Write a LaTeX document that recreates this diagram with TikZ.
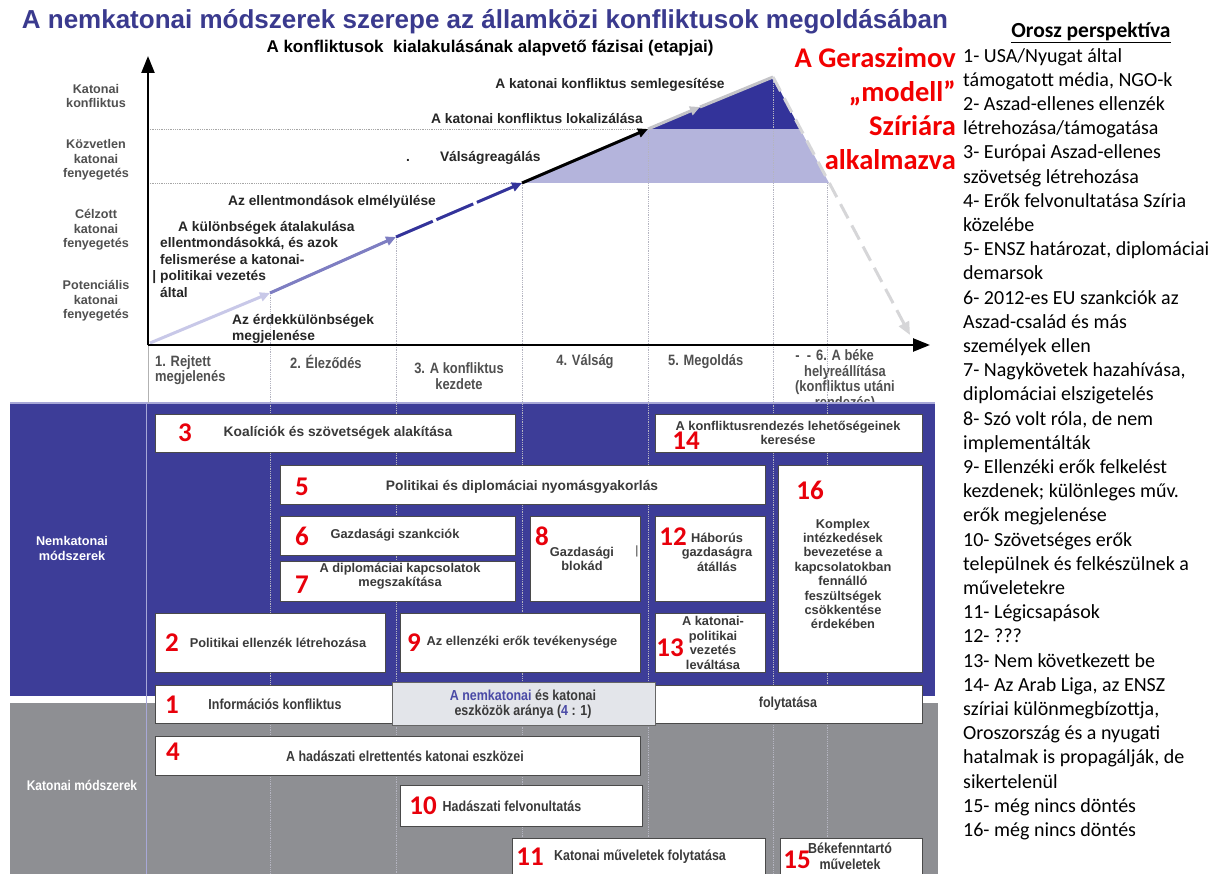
\documentclass[tikz,border=0pt]{standalone}
\usepackage{fontspec}
\setmainfont{Liberation Sans}
\newfontfamily\narrowfont[FakeStretch=0.86]{Liberation Sans}
\newfontfamily\calfont{Carlito}
\usetikzlibrary{arrows.meta}
\definecolor{title-blue}{HTML}{3A3A8E}
\definecolor{band-blue}{HTML}{3D3D98}
\definecolor{band-top}{HTML}{A8A8D8}
\definecolor{band-gray}{HTML}{8E8F93}
\definecolor{lav-light}{HTML}{C8C8E8}
\definecolor{lav-mid}{HTML}{7E7EC2}
\definecolor{lav-fill}{HTML}{B4B4DC}
\definecolor{deep-blue}{HTML}{33339A}
\definecolor{peak-gray}{HTML}{C4C4C8}
\definecolor{fall-gray}{HTML}{D6D6D8}
\definecolor{grid-gray}{HTML}{B4B4C0}
\definecolor{box-edge}{HTML}{4A4A4A}
\definecolor{box-text}{HTML}{3A3A3A}
\definecolor{label-gray}{HTML}{505050}
\definecolor{ratio-fill}{HTML}{E3E5EA}
\definecolor{ratio-blue}{HTML}{4A4AA6}
\definecolor{num-red}{HTML}{E8000B}
\definecolor{ger-red}{HTML}{F20000}

\begin{document}
\begin{tikzpicture}[x=1pt, y=-1pt,
      blok/.style={draw=box-edge, fill=white, line width=0.9pt, inner sep=0pt},
      btxt/.style={font=\bfseries\fontsize{12.8}{14.4}\selectfont, text=box-text, align=center, inner sep=0pt},
      gtxt/.style={font=\narrowfont\bfseries\fontsize{14.5}{15.5}\selectfont, text=box-text, align=center, inner sep=0pt},
      num/.style={font=\calfont\bfseries\fontsize{27}{27}\selectfont, text=num-red, inner sep=0pt},
      ylab/.style={font=\bfseries\fontsize{12.6}{14.7}\selectfont, text=label-gray, align=center, inner sep=0pt},
      ann/.style={font=\bfseries\fontsize{13.8}{16.5}\selectfont, text=black!85, inner sep=0pt},
      phase/.style={font=\narrowfont\bfseries\fontsize{15}{15.5}\selectfont, text=label-gray, align=center, inner sep=0pt},
      vline/.style={densely dotted, line width=0.8pt, grid-gray},
      growth/.style={line width=3pt, -{Triangle[length=10pt,width=9pt]}}]
    \useasboundingbox (0,0) rectangle (1220,874);
    \fill[white] (0,0) rectangle (1220,874);

    % title
    \node[font=\bfseries\fontsize{26}{26}\selectfont, text=title-blue, inner sep=0pt] (cim) at (485,22)
          {A nemkatonai módszerek szerepe az államközi konfliktusok megoldásában};
    \node[font=\bfseries\fontsize{17}{17}\selectfont, inner sep=0pt] (alcim) at (490,48)
          {A konfliktusok\ \ kialakulásának alapvető fázisai (etapjai)};

    % chart points
    \coordinate (o) at (148,345);
    \coordinate (ytop) at (148,56);
    \coordinate (xend) at (930,345);
    \coordinate (bot) at (0,874);
    \coordinate (p0) at (150,343);
    \coordinate (p1) at (270,293);
    \coordinate (p2) at (396,237);
    \coordinate (p3) at (522,183);
    \coordinate (p4) at (648,129);
    \coordinate (pm) at (700,107);
    \coordinate (p5) at (773,77);
    \coordinate (pe) at (910,335);
    \coordinate (d1) at (800,129);
    \coordinate (d2) at (829,183);
    \coordinate (d3) at (827,183);
    \coordinate (sep) at (146,403);

    \fill[lav-fill] (p3) -- (p4) -- (d1) -- (d2) -- cycle;
    \fill[deep-blue] (p4) -- (p5) -- (d1) -- cycle;
    \draw[densely dotted, gray!70, line width=0.8pt] (o |- p4) -- (p4);
    \draw[densely dotted, gray!70, line width=0.8pt] (o |- p3) -- (p3);

    % phase labels
    \node[phase, align=left, anchor=west] (f1) at (155,370) {1. Rejtett\\megjelenés};
    \node[phase, anchor=west] (f2) at (290,362) {2. Éleződés};
    \node[phase] (f3) at (459,376) {3. A konfliktus\\kezdete};
    \node[phase] (f4) at (585,362) {4. Válság};
    \node[phase, anchor=west] (f5) at (668,362) {5. Megoldás};
    \node[phase] (f6) at (845,380) {\llap{-\hspace{7pt}-\hspace{5pt}}6. A béke\\helyreállítása\\(konfliktus utáni\\rendezés)};

    % bands
    \fill[band-blue] (10,403) rectangle (935,696);
    \fill[band-gray] (10,703) rectangle (938,874);
    \draw[band-top, line width=1.2pt] (10,403) -- (935,403);
    \draw[band-top, line width=0.8pt] (sep) -- (sep |- bot);
    \draw[gray!60, line width=0.8pt] (o) -- (o |- sep);

    % phase borders
    \draw[vline] (p1) -- (p1 |- bot);
    \draw[vline] (p2) -- (p2 |- bot);
    \draw[vline] (p3) -- (p3 |- bot);
    \draw[vline] (p4) -- (p4 |- bot);
    \draw[vline] (p5) -- (p5 |- bot);
    \draw[vline] (d3) -- (d3 |- bot);

    % growth line
    \draw[growth, lav-light] (p0) -- (p1);
    \draw[growth, lav-mid] (p1) -- (p2);
    \draw[growth, deep-blue, dash pattern=on 40pt off 4pt] (p2) -- (p3);
    \draw[growth, black] (p3) -- (p4);
    \draw[growth, peak-gray] (p4) -- (pm);
    \draw[line width=3pt, peak-gray] (pm) -- (p5);
    \draw[line width=3pt, fall-gray, dash pattern=on 16pt off 8pt, -{Triangle[length=13pt,width=11pt]}] (p5) -- (pe);

    % axes
    \draw[line width=2.4pt, -{Triangle[length=17pt,width=13pt]}] (o) -- (ytop);
    \draw[line width=2.4pt, -{Triangle[length=17pt,width=13pt]}] (o) -- (xend);

    % levels
    \node[ylab] (yk1) at (96,96) {Katonai\\konfliktus};
    \node[ylab] (yk2) at (96,160) {Közvetlen\\katonai\\fenyegetés};
    \node[ylab] (yk3) at (96,230) {Célzott\\katonai\\fenyegetés};
    \node[ylab] (yk4) at (96,301) {Potenciális\\katonai\\fenyegetés};

    % stages on the line
    \node[ann] (a1) at (610,85) {A katonai konfliktus semlegesítése};
    \node[ann] (a2) at (537,119) {A katonai konfliktus lokalizálása};
    \node[ann, anchor=west] (a3) at (406,158) {.\hspace{30pt}Válságreagálás};
    \node[ann] (a4) at (332,202) {Az ellentmondások elmélyülése};
    \node[ann, align=left, anchor=north west] (a5) at (160,221)
          {\hspace{18pt}A különbségek átalakulása\\ellentmondásokká, és azok\\felismerése a katonai-\\\llap{|\hspace{4pt}}politikai vezetés\\által};
    \node[ann, align=left, anchor=west] (a6) at (232,329) {Az érdekkülönbségek\\megjelenése};

    % Geraszimov
    \node[font=\calfont\bfseries\fontsize{28.5}{34}\selectfont, text=ger-red, align=right,
          anchor=north east, inner sep=0pt] (gera) at (956,47) {A Geraszimov\\„modell”\\Szíriára\\alkalmazva};

    % band labels
    \node[font=\bfseries\fontsize{12.7}{15}\selectfont, text=white, align=center, inner sep=0pt] (lnem) at (72,548) {Nemkatonai\\módszerek};
    \node[font=\narrowfont\bfseries\fontsize{14}{14}\selectfont, text=white, inner sep=0pt] (lkat) at (82,785) {Katonai módszerek};

    % non-military boxes
    \node[blok, minimum width=360pt, minimum height=38pt] (b3) at (335,433) {};
    \node[blok, minimum width=267pt, minimum height=38pt] (b14) at (788.5,433) {};
    \node[blok, minimum width=485pt, minimum height=39pt] (b5) at (522.5,484.5) {};
    \node[blok, minimum width=144pt, minimum height=207pt] (b16) at (850,568.5) {};
    \node[blok, minimum width=235pt, minimum height=39pt] (b6) at (397.5,535.5) {};
    \node[blok, minimum width=235pt, minimum height=40pt] (b7) at (397.5,581) {};
    \node[blok, minimum width=110pt, minimum height=85pt] (b8) at (585,558.5) {};
    \node[blok, minimum width=110pt, minimum height=85pt] (b12) at (710,558.5) {};
    \node[blok, minimum width=230pt, minimum height=59pt] (b2) at (270,642.5) {};
    \node[blok, minimum width=240pt, minimum height=59pt] (b9) at (520,642.5) {};
    \node[blok, minimum width=110pt, minimum height=59pt] (b13) at (710,642.5) {};

    \node[btxt, font=\bfseries\fontsize{13.8}{15}\selectfont] (t3) at (338,433) {Koalíciók és szövetségek alakítása};
    \node[btxt] (t14) at (788,433) {A konfliktusrendezés lehetőségeinek\\keresése};
    \node[btxt, font=\bfseries\fontsize{13.8}{15}\selectfont] (t5) at (522,487) {Politikai és diplomáciai nyomásgyakorlás};
    \node[btxt] (t16) at (843,574) {Komplex\\intézkedések\\bevezetése a\\kapcsolatokban\\fennálló\\feszültségek\\csökkentése\\érdekében};
    \node[btxt] (t6) at (395,535) {Gazdasági szankciók};
    \node[btxt] (t7) at (400,576) {A diplomáciai kapcsolatok\\megszakítása};
    \node[btxt] (t8) at (582,559) {Gazdasági\\blokád};
    \node[btxt, font=\fontsize{12}{12}\selectfont] (t8b) at (637,551) {|};
    \node[btxt] (t12) at (717,552) {Háborús\\gazdaságra\\átállás};
    \node[btxt] (t2) at (278,643) {Politikai ellenzék létrehozása};
    \node[btxt] (t9) at (522,642) {Az ellenzéki erők tevékenysége};
    \node[btxt] (t13) at (713,643) {A katonai-\\politikai\\vezetés\\leváltása};

    % military boxes
    \node[blok, minimum width=237pt, minimum height=38pt] (b1) at (273.5,704) {};
    \node[blok, minimum width=267pt, minimum height=38pt] (bfoly) at (788.5,704) {};
    \node[blok, fill=ratio-fill, draw=gray!80!black, minimum width=263pt, minimum height=43pt] (arany) at (523.5,703.5) {};
    \node[blok, minimum width=485pt, minimum height=39pt] (b4) at (397.5,755.5) {};
    \node[blok, minimum width=242pt, minimum height=41pt] (b10) at (521,805.5) {};
    \node[blok, minimum width=253pt, minimum height=42pt] (b11) at (638.5,859) {};
    \node[blok, minimum width=142pt, minimum height=42pt] (b15) at (851,859) {};

    \node[gtxt] (t1) at (275,704) {Információs konfliktus};
    \node[gtxt] (tfoly) at (788,704) {folytatása};
    \node[gtxt] (tarany) at (523,704) {\textcolor{ratio-blue}{A nemkatonai} és katonai\\eszközök aránya (\textcolor{ratio-blue}{4} : 1)};
    \node[gtxt] (t4) at (405,756) {A hadászati elrettentés katonai eszközei};
    \node[gtxt] (t10) at (512,806) {Hadászati felvonultatás};
    \node[gtxt] (t11) at (640,857) {Katonai műveletek folytatása};
    \node[gtxt] (t15) at (850,856) {Békefenntartó\\műveletek};

    % numbers
    \node[num] (n3) at (185,433) {3};
    \node[num] (n14) at (686,441) {14};
    \node[num] (n5) at (302,487) {5};
    \node[num] (n16) at (810,490) {16};
    \node[num] (n6) at (302,536) {6};
    \node[num] (n7) at (302,585) {7};
    \node[num] (n8) at (542,536) {8};
    \node[num] (n12) at (673,537) {12};
    \node[num] (n2) at (172,643) {2};
    \node[num] (n9) at (414,643) {9};
    \node[num] (n13) at (670,648) {13};
    \node[num] (n1) at (172,705) {1};
    \node[num] (n4) at (173,752) {4};
    \node[num] (n10) at (423,806) {10};
    \node[num] (n11) at (530,857) {11};
    \node[num] (n15) at (797,860) {15};

    % Russian view
    \node[font=\calfont\bfseries\fontsize{21.5}{21.5}\selectfont, inner sep=0pt] (ohead) at (1091,33) {\underline{Orosz perspektíva}};
    \node[font=\calfont\fontsize{20}{24.2}\selectfont, align=left, anchor=north west, inner sep=0pt] (olist) at (963,48)
          {1- USA/Nyugat által\\támogatott média, NGO-k\\2- Aszad-ellenes ellenzék\\létrehozása/támogatása\\3- Európai Aszad-ellenes\\szövetség létrehozása\\4- Erők felvonultatása Szíria\\közelébe\\5- ENSZ határozat, diplomáciai\\demarsok\\6- 2012-es EU szankciók az\\Aszad-család és más\\személyek ellen\\7- Nagykövetek hazahívása,\\diplomáciai elszigetelés\\8- Szó volt róla, de nem\\implementálták\\9- Ellenzéki erők felkelést\\kezdenek; különleges műv.\\erők megjelenése\\10- Szövetséges erők\\települnek és felkészülnek a\\műveletekre\\11- Légicsapások\\12- ???\\13- Nem következett be\\14- Az Arab Liga, az ENSZ\\szíriai különmegbízottja,\\Oroszország és a nyugati\\hatalmak is propagálják, de\\sikertelenül\\15- még nincs döntés\\16- még nincs döntés};
  \end{tikzpicture}
\end{document}
